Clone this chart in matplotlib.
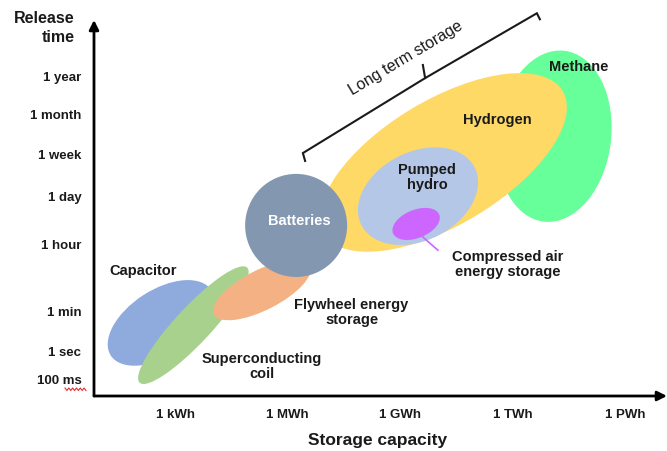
import numpy as np
import matplotlib
matplotlib.use("Agg")
import matplotlib.pyplot as plt
from matplotlib.patches import Ellipse

plt.rcParams['font.family'] = ['Liberation Sans', 'DejaVu Sans']

# x: log10 of capacity in Wh (1 kWh = 3 ... 1 PWh = 15)
# y: release time on the chart's own (non-linear) scale
x_ticks = [3, 6, 9, 12, 15]
x_labels = ["1 kWh", "1 MWh", "1 GWh", "1 TWh", "1 PWh"]
y_ticks = [0.43, 1.18, 2.25, 4.03, 5.33, 6.43, 7.52, 8.51]
y_labels = ["100 ms", "1 sec", "1 min", "1 hour", "1 day", "1 week", "1 month", "1 year"]

# storage technologies, in drawing order (back to front)
tech = ["Methane", "Hydrogen", "Pumped hydro", "Compressed air",
        "Capacitor", "Superconducting coil", "Flywheel", "Batteries"]
cx = [13.11, 10.16, 9.48, 9.43, 2.63, 3.49, 5.32, 6.23]
cy = [6.93, 6.23, 5.33, 4.59, 1.95, 1.89, 2.83, 4.55]
ew = [3.04, 7.41, 3.39, 1.33, 3.20, 4.20, 2.88, 2.72]
eh = [4.59, 3.33, 2.36, 0.75, 1.76, 0.96, 1.07, 2.75]
ang = [-7, 31, 27, 22, 33, 47, 27, 0]
colors = ["#66FF99", "#FFD966", "#B4C7E7", "#CC66FF",
          "#8FAADC", "#A9D18E", "#F4B183", "#8497B0"]

labels = ["Methane", "Hydrogen", "Pumped\nhydro", "Compressed air\nenergy storage",
          "Capacitor", "Superconducting\ncoil", "Flywheel energy\nstorage", "Batteries"]
lx = [13.77, 11.60, 9.72, 11.88, 2.15, 5.32, 7.71, 6.32]
ly = [8.77, 7.36, 5.83, 3.51, 3.33, 0.79, 2.23, 4.67]
lcol = ["#1a1a1a"] * 7 + ["white"]

# leader line for compressed air
caes_line_x = [9.61, 10.01]
caes_line_y = [4.24, 3.89]

# "Long term storage" bracket
bracket_x = [6.47, 6.41, 9.67, 12.65, 12.73]
bracket_y = [6.27, 6.48, 8.48, 10.21, 10.05]
notch_x = [9.67, 9.61]
notch_y = [8.48, 8.83]

fig = plt.figure(figsize=(6.67, 4.51), dpi=100)
ax = fig.add_axes([94 / 667, 55 / 451, 573 / 667, 376 / 451])
ax.set_xlim(0.84, 16.12)
ax.set_ylim(0, 10.03)

for i in range(len(tech)):
    ax.add_patch(Ellipse((cx[i], cy[i]), ew[i], eh[i], angle=ang[i],
                         facecolor=colors[i], edgecolor="none", zorder=2 + i))

for i in range(len(labels)):
    ax.text(lx[i], ly[i], labels[i], ha="center", va="center", fontsize=10.5,
            fontweight="bold", color=lcol[i], linespacing=1.1, zorder=20)

ax.plot(caes_line_x, caes_line_y, color="#CC66FF", lw=1.2, zorder=6)

ax.plot(bracket_x, bracket_y, color="#1a1a1a", lw=1.5, solid_joinstyle="miter",
        zorder=20, clip_on=False)
ax.plot(notch_x, notch_y, color="#1a1a1a", lw=1.5, zorder=20, clip_on=False)
ax.text(9.16, 9.01, "Long term storage", rotation=31, rotation_mode="anchor",
        ha="center", va="center", fontsize=11.5, color="#1a1a1a")

# axes with arrows
for s in ax.spines.values():
    s.set_visible(False)
ax.annotate("", xy=(0, 1), xytext=(0, 0), xycoords="axes fraction",
            arrowprops=dict(arrowstyle="-|>", lw=2, color="black",
                            mutation_scale=14, shrinkA=0, shrinkB=0))
ax.annotate("", xy=(1, 0), xytext=(0, 0), xycoords="axes fraction",
            arrowprops=dict(arrowstyle="-|>", lw=2, color="black",
                            mutation_scale=14, shrinkA=0, shrinkB=0))

ax.set_xticks(x_ticks)
ax.set_xticklabels(x_labels, fontsize=9.5, fontweight="bold", color="#1a1a1a")
ax.set_yticks(y_ticks)
ax.set_yticklabels(y_labels, fontsize=9.5, fontweight="bold", color="#1a1a1a")
ax.tick_params(length=0, pad=9)

ax.text(0.333, 9.81, "Release\ntime", ha="right", va="center", fontsize=11.5,
        fontweight="bold", color="#1a1a1a", linespacing=1.3, clip_on=False)
ax.text(8.41, -1.2, "Storage capacity", ha="center", va="center", fontsize=12.5,
        fontweight="bold", color="#1a1a1a", clip_on=False)

# spell-check squiggle under "ms"
sq_x = np.linspace(65, 86, 12) / 667
sq_y = (451 - np.array([388, 390.5] * 6)) / 451
fig.add_artist(plt.Line2D(sq_x, sq_y, color="#e03030", lw=0.8))

fig.savefig("out.png", dpi=100)
